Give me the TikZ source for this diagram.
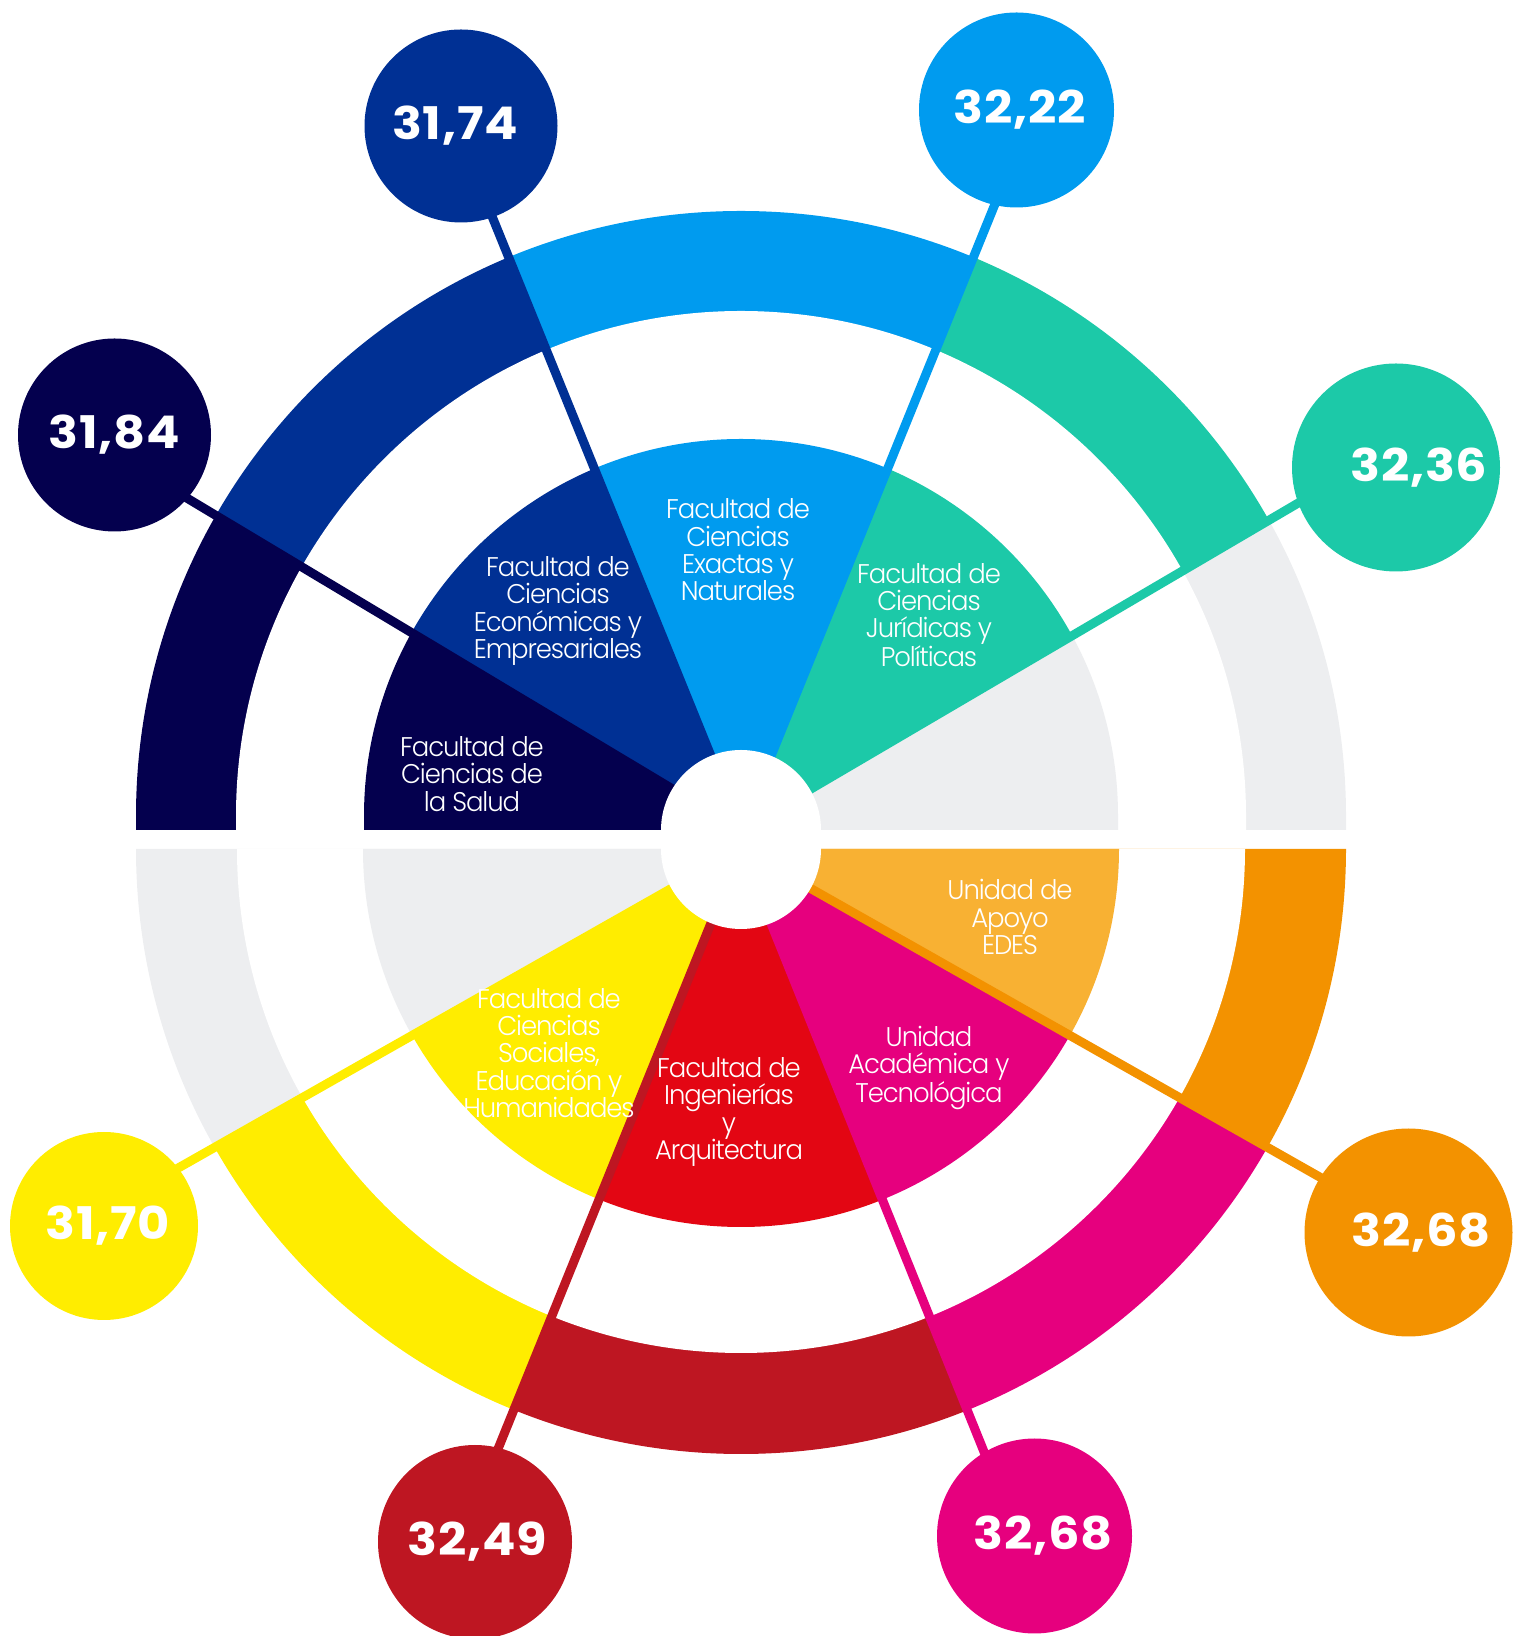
\documentclass[tikz,border=0pt]{standalone}
\usepackage{fontspec}
\setmainfont{Poppins}
\newfontfamily\labelfont{Poppins Light}[LetterSpace=-4,FakeStretch=0.96]
\newfontfamily\numfont{Poppins Bold}[LetterSpace=1.5,FakeStretch=1.1]
\definecolor{saludcol}{RGB}{4,0,78}
\definecolor{econcol}{RGB}{0,48,148}
\definecolor{exactcol}{RGB}{0,155,239}
\definecolor{juricol}{RGB}{28,201,168}
\definecolor{restcol}{RGB}{237,238,240}
\definecolor{socialcol}{RGB}{255,237,0}
\definecolor{ingcol}{RGB}{227,6,19}
\definecolor{ingdark}{RGB}{190,22,34}
\definecolor{acadcol}{RGB}{230,0,126}
\definecolor{edescol}{RGB}{248,177,51}
\definecolor{edesdark}{RGB}{243,146,0}
\begin{document}
\begin{tikzpicture}[x=1pt,y=1pt,
	bubble/.style={circle,inner sep=0pt,text=white,font={\numfont\fontsize{45}{45}\selectfont}},
	sector/.style={text=white,align=center,inner sep=0pt,font={\labelfont\fontsize{27}{27.3}\selectfont}},
	spoke/.style={line width=9pt,shorten <=-4pt}]
	\useasboundingbox (0,0) rectangle (1513,1636);
	\coordinate (hubU) at (741,806);
	\coordinate (hubL) at (741,787);
	% upper half
	\begin{scope}
		\clip (136,806) -- (136,820) arc[start angle=180,end angle=0,radius=605] -- (1346,806) -- cycle;
		\fill[saludcol] (hubU) -- +(180:900) -- +(149:900) -- cycle;
		\fill[econcol] (hubU) -- +(149:900) -- +(112:900) -- cycle;
		\fill[exactcol] (hubU) -- +(112:900) -- +(68:900) -- cycle;
		\fill[juricol] (hubU) -- +(68:900) -- +(30.5:900) -- cycle;
		\fill[restcol] (hubU) -- +(30.5:900) -- +(0:900) -- cycle;
		\fill[white] (236,806) -- (236,820) arc[start angle=180,end angle=0,radius=505] -- (1246,806) -- cycle;
		\clip (364,806) -- (364,820) arc[start angle=180,end angle=0,radius=377] -- (1118,806) -- cycle;
		\fill[saludcol] (hubU) -- +(180:900) -- +(149:900) -- cycle;
		\fill[econcol] (hubU) -- +(149:900) -- +(112:900) -- cycle;
		\fill[exactcol] (hubU) -- +(112:900) -- +(68:900) -- cycle;
		\fill[juricol] (hubU) -- +(68:900) -- +(30.5:900) -- cycle;
		\fill[restcol] (hubU) -- +(30.5:900) -- +(0:900) -- cycle;
	\end{scope}
	% lower half
	\begin{scope}
		\clip (136,787) arc[start angle=180,end angle=360,radius=605] -- cycle;
		\fill[restcol] (hubL) -- +(180:900) -- +(209.5:900) -- cycle;
		\fill[socialcol] (hubL) -- +(209.5:900) -- +(248:900) -- cycle;
		\fill[ingdark] (hubL) -- +(248:900) -- +(292:900) -- cycle;
		\fill[acadcol] (hubL) -- +(292:900) -- +(330.5:900) -- cycle;
		\fill[edesdark] (hubL) -- +(330.5:900) -- +(360:900) -- cycle;
		\fill[white] (237,787) arc[start angle=180,end angle=360,radius=504] -- cycle;
		\clip (363,787) arc[start angle=180,end angle=360,radius=378] -- cycle;
		\fill[restcol] (hubL) -- +(180:900) -- +(209.5:900) -- cycle;
		\fill[socialcol] (hubL) -- +(209.5:900) -- +(248:900) -- cycle;
		\fill[ingcol] (hubL) -- +(248:900) -- +(292:900) -- cycle;
		\fill[acadcol] (hubL) -- +(292:900) -- +(330.5:900) -- cycle;
		\fill[edescol] (hubL) -- +(330.5:900) -- +(360:900) -- cycle;
	\end{scope}
	% score bubbles
	\node[bubble,fill=econcol,minimum size=193pt] (b3174) at (461,1510) {\hspace*{-12pt}31,74};
	\node[bubble,fill=exactcol,minimum size=195pt] (b3222) at (1016.5,1526) {\hspace*{6pt}32,22};
	\node[bubble,fill=saludcol,minimum size=193pt] (b3184) at (114.5,1201) {31,84};
	\node[bubble,fill=juricol,minimum size=208pt] (b3236) at (1396,1168.5) {\hspace*{46pt}32,36};
	\node[bubble,fill=socialcol,minimum size=188pt] (b3170) at (104,410) {\hspace*{8pt}31,70};
	\node[bubble,fill=ingdark,minimum size=194pt] (b3249) at (475,94) {\hspace*{5pt}32,49};
	\node[bubble,fill=acadcol,minimum size=195pt] (b3268a) at (1034.5,100) {\hspace*{17pt}32,68};
	\node[bubble,fill=edesdark,minimum size=208pt] (b3268e) at (1408.5,403.5) {\hspace*{25pt}32,68};
	% spokes
	\draw[spoke,econcol] (b3174.-71) -- (hubU);
	\draw[spoke,exactcol] (b3222.-103) -- (hubU);
	\draw[spoke,saludcol] (b3184.-41) -- (hubU);
	\draw[spoke,juricol] (b3236.200) -- (hubU);
	\draw[spoke,socialcol] (b3170.38) -- (hubL);
	\draw[spoke,ingdark] (b3249.76) -- (hubL);
	\draw[spoke,acadcol] (b3268a.121) -- (hubL);
	\draw[spoke,edesdark] (b3268e.148) -- (hubL);
	% hole
	\fill[white] (hubU) circle (80);
	\fill[white] (hubL) circle (80);
	% names
	\node[sector] (salud) at (472,862) {Facultad de\\Ciencias de\\la Salud};
	\node[sector] (econ) at (558,1025) {Facultad de\\Ciencias\\Económicas y\\Empresariales};
	\node[sector] (exactas) at (738,1086) {Facultad de\\Ciencias\\Exactas y\\Naturales};
	\node[sector] (juridicas) at (929,1021) {Facultad de\\Ciencias\\Jurídicas y\\Políticas};
	\node[sector] (edes) at (1010,719) {Unidad de\\Apoyo\\EDES};
	\node[sector] (academica) at (929,568) {Unidad\\Académica y\\Tecnológica};
	\node[sector] (ingenieria) at (729,524) {Facultad de\\Ingenierías\\y\\Arquitectura};
	\node[sector] (sociales) at (549,583) {Facultad de\\Ciencias\\Sociales,\\Educación y\\Humanidades};
\end{tikzpicture}
\end{document}
